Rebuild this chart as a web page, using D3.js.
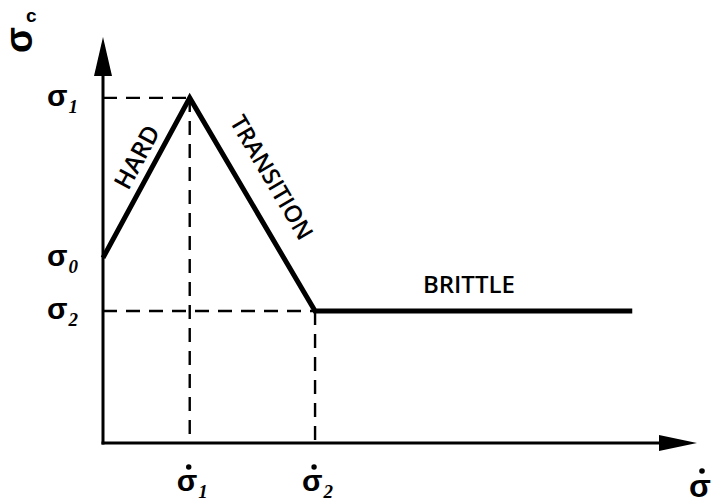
<!DOCTYPE html>
<html>
<head>
<meta charset="utf-8">
<script src="https://cdn.jsdelivr.net/npm/d3@7"></script>
<style>
  html, body { margin: 0; padding: 0; background: #fff; }
  svg { display: block; }
</style>
</head>
<body>
<script>
// Critical stress vs. loading rate: hard, transition and brittle regimes
const rateLevels = [14.6, 35.7];          // σ̇1, σ̇2 (relative units)
const rateLabels = ["1", "2"];
const stressLevels = [85, 45.6, 32.5];    // σ1, σ0, σ2 (relative units)
const stressLabels = ["1", "0", "2"];
const curveX = [0, 14.6, 35.7, 89.1];
const curveY = [45.6, 85, 32.5, 32.5];
const regimeNames = ["HARD", "TRANSITION", "BRITTLE"];

const W = 717, H = 502;
const svg = d3.select("body").append("svg").attr("width", W).attr("height", H);

const x = d3.scaleLinear().domain([0, 100]).range([103, 697]);
const y = d3.scaleLinear().domain([0, 100]).range([443, 37]);

const ink = "#000";

// axes
svg.append("line").attr("x1", x(0)).attr("y1", y(0) + 1.5).attr("x2", x(0)).attr("y2", y(92))
  .attr("stroke", ink).attr("stroke-width", 3);
svg.append("line").attr("x1", x(0) - 1.5).attr("y1", y(0)).attr("x2", x(94)).attr("y2", y(0))
  .attr("stroke", ink).attr("stroke-width", 3);
// arrowheads
svg.append("path")
  .attr("d", `M${x(0)},${y(100)} L${x(0) - 9},${y(100) + 39} L${x(0) + 9},${y(100) + 39} Z`)
  .attr("fill", ink);
svg.append("path")
  .attr("d", `M${x(100)},${y(0)} L${x(100) - 38},${y(0) - 8} L${x(100) - 38},${y(0) + 8} Z`)
  .attr("fill", ink);

// dashed guides
const dash = "14,9";
const guides = [
  [0, stressLevels[0], rateLevels[0], stressLevels[0]],
  [rateLevels[0], stressLevels[0], rateLevels[0], 0],
  [0, stressLevels[2], rateLevels[1], stressLevels[2]],
  [rateLevels[1], stressLevels[2], rateLevels[1], 0]
];
svg.selectAll("line.guide").data(guides).join("line")
  .attr("class", "guide")
  .attr("x1", d => x(d[0])).attr("y1", d => y(d[1]))
  .attr("x2", d => x(d[2])).attr("y2", d => y(d[3]))
  .attr("stroke", ink).attr("stroke-width", 2.4).attr("stroke-dasharray", dash);

// regime curve
const pts = curveX.map((v, i) => [v, curveY[i]]);
svg.append("path")
  .attr("d", d3.line().x(d => x(d[0])).y(d => y(d[1]))(pts))
  .attr("fill", "none").attr("stroke", ink).attr("stroke-width", 5)
  .attr("stroke-linejoin", "miter");

// stress labels on the vertical axis
const symFont = "'Liberation Sans', Arial, sans-serif";
const subFont = "'Liberation Serif', 'Times New Roman', serif";
function sigma(g, sub, dot) {
  const t = g.append("text").attr("fill", ink);
  t.append("tspan").attr("font-family", symFont).attr("font-weight", "bold")
    .attr("font-size", 30).text("σ");
  t.append("tspan").attr("font-family", subFont).attr("font-weight", "bold")
    .attr("font-style", "italic").attr("font-size", 19)
    .attr("dx", 1).attr("dy", 7).text(sub);
  if (dot) {
    g.append("circle").attr("cx", 12).attr("cy", -24).attr("r", 2.7).attr("fill", ink);
  }
  return t;
}
stressLevels.forEach((s, i) => {
  const g = svg.append("g").attr("transform", `translate(47,${y(s) + 8})`);
  sigma(g, stressLabels[i], false);
});
rateLevels.forEach((r, i) => {
  const g = svg.append("g").attr("transform", `translate(${x(r) - 13},${y(0) + 48})`);
  sigma(g, rateLabels[i], true);
});
// horizontal axis title σ̇
{
  const g = svg.append("g").attr("transform", `translate(689,${y(0) + 54})`);
  g.append("text").attr("font-family", symFont).attr("font-weight", "bold")
    .attr("font-size", 32).attr("fill", ink).text("σ");
  g.append("circle").attr("cx", 13).attr("cy", -26).attr("r", 2.8).attr("fill", ink);
}
// vertical axis title σc: rotated sigma with an upright c
svg.append("text")
  .attr("transform", "translate(32,53) rotate(-90)")
  .attr("font-family", symFont).attr("font-weight", "bold").attr("font-size", 38)
  .attr("fill", ink).text("σ");
svg.append("text")
  .attr("x", 26).attr("y", 22)
  .attr("font-family", symFont).attr("font-weight", "bold").attr("font-size", 19)
  .attr("fill", ink).text("c");

// regime names
const nameFont = "'Open Sans', 'DejaVu Sans', sans-serif";
const p0 = [x(curveX[0]), y(curveY[0])], p1 = [x(curveX[1]), y(curveY[1])], p2 = [x(curveX[2]), y(curveY[2])];
const angA = Math.atan2(p1[1] - p0[1], p1[0] - p0[0]) * 180 / Math.PI;
const angB = Math.atan2(p2[1] - p1[1], p2[0] - p1[0]) * 180 / Math.PI;

function regime(label, cx, cy, ang, size) {
  svg.append("text")
    .attr("transform", `translate(${cx},${cy}) rotate(${ang})`)
    .attr("text-anchor", "middle").attr("dominant-baseline", "central")
    .attr("font-family", nameFont).attr("font-weight", 600).attr("font-size", size)
    .attr("fill", ink).text(label);
}
regime(regimeNames[0], x(5.6), y(70.5), angA, 24.5);
regime(regimeNames[1], x(28.5), y(65.5), angB, 23.5);
regime(regimeNames[2], x(61.6), y(39.2), 0, 24);
</script>
</body>
</html>
